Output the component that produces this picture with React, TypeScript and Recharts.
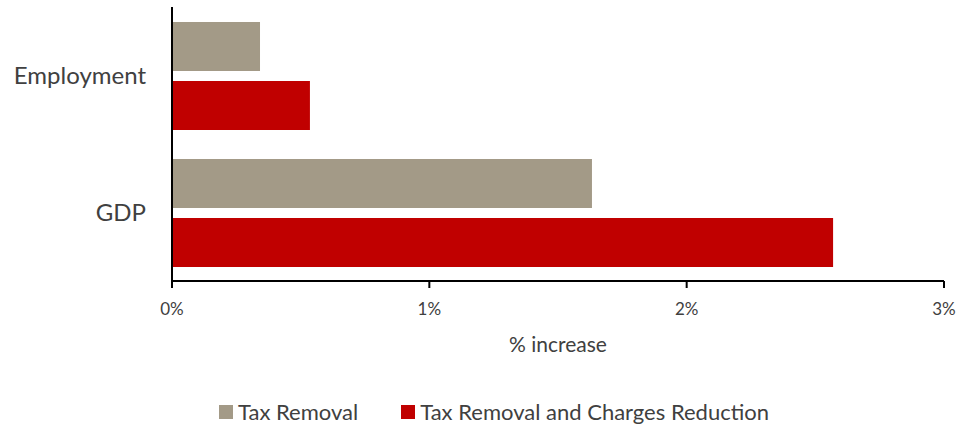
import React from 'react';
import { BarChart, Bar, XAxis, YAxis, Legend } from 'recharts';

const categories = ['Employment', 'GDP'];
const taxRemoval = [0.342, 1.632];
const taxAndCharges = [0.536, 2.569];
const xTicks = [0, 1, 2, 3];

const GREY = '#A39A87';
const RED = '#C00000';
const FONT = 'Lato, "Noto Sans", sans-serif';

const data = categories.map((name, i) => ({
  name,
  tax: taxRemoval[i],
  charges: taxAndCharges[i]
}));

const renderLegend = (props: any) => {
  const { payload } = props;
  return (
    <div style={{ display: 'flex', justifyContent: 'center', fontFamily: FONT, fontSize: 22, color: '#404040' }}>
      {payload.map((entry: any, i: number) => (
        <div key={i} style={{ display: 'flex', alignItems: 'center', marginRight: i === 0 ? 43 : 0 }}>
          <span style={{ display: 'inline-block', width: 14, height: 14, background: entry.color, marginRight: 5 }} />
          <span>{entry.value}</span>
        </div>
      ))}
    </div>
  );
};

export default function App() {
  return (
    <div style={{ position: 'absolute', left: 0, top: 0, background: '#fff' }}>
      <BarChart
        width={960}
        height={427}
        data={data}
        layout="vertical"
        margin={{ top: 7, right: 16, left: 0, bottom: 0 }}
        barCategoryGap={15}
        barGap={10}
      >
        <XAxis
          type="number"
          domain={[0, 3]}
          ticks={xTicks}
          tickFormatter={(v: number) => `${v}%`}
          height={146}
          axisLine={{ stroke: '#000', strokeWidth: 2 }}
          tickLine={{ stroke: '#000', strokeWidth: 2 }}
          tickSize={7}
          tickMargin={15}
          tick={{ fill: '#404040', fontSize: 17, fontFamily: FONT }}
          label={{ value: '% increase', position: 'insideBottom', offset: 75, fill: '#404040', fontSize: 21, fontFamily: FONT }}
        />
        <YAxis
          type="category"
          dataKey="name"
          width={172}
          axisLine={{ stroke: '#000', strokeWidth: 2 }}
          tickLine={false}
          tickSize={0}
          tickMargin={26}
          tick={{ fill: '#404040', fontSize: 24, fontFamily: FONT }}
        />
        <Legend
          verticalAlign="middle"
          align="center"
          layout="horizontal"
          content={renderLegend}
          wrapperStyle={{ top: 398, left: 28, width: 932 }}
        />
        <Bar dataKey="tax" name="Tax Removal" fill={GREY} isAnimationActive={false} />
        <Bar dataKey="charges" name="Tax Removal and Charges Reduction" fill={RED} isAnimationActive={false} />
      </BarChart>
    </div>
  );
}
